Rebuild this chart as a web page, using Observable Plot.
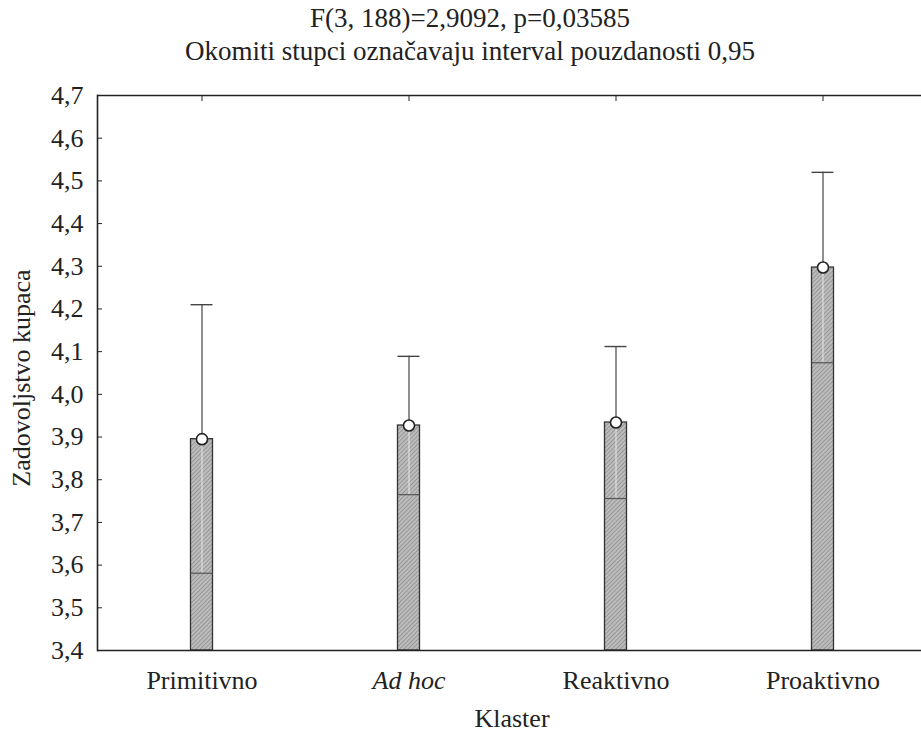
<!DOCTYPE html>
<html>
<head>
<meta charset="utf-8">
<script src="https://cdn.jsdelivr.net/npm/d3@7"></script>
<script src="https://cdn.jsdelivr.net/npm/@observablehq/plot@0.6"></script>
<style>
  body { margin: 0; background: #fff; }
</style>
</head>
<body>
<div id="wrap" style="position:relative;width:921px;height:734px;font-family:'Liberation Serif', serif;color:#222;">
  <div class="t" style="position:absolute;left:0;top:5px;width:940px;text-align:center;font-size:27px;line-height:1;font-family:'Liberation Serif', serif;">F(3, 188)=2,9092, p=0,03585</div>
  <div class="t" style="position:absolute;left:0;top:38px;width:940px;text-align:center;font-size:27px;line-height:1;font-family:'Liberation Serif', serif;">Okomiti stupci označavaju interval pouzdanosti 0,95</div>
</div>
<script>
const categories = ["Primitivno", "Ad hoc", "Reaktivno", "Proaktivno"];
const means = [3.895, 3.927, 3.934, 4.297];
const lower = [3.581, 3.765, 3.756, 4.074];
const upper = [4.210, 4.089, 4.112, 4.520];
const yTicks = [3.4, 3.5, 3.6, 3.7, 3.8, 3.9, 4.0, 4.1, 4.2, 4.3, 4.4, 4.5, 4.6, 4.7];
const yTitle = "Zadovoljstvo kupaca";
const xTitle = "Klaster";

const data = categories.map((c, i) => ({cat: c, mean: means[i], lo: lower[i], hi: upper[i]}));
const inset = 92.5;
const ff = "'Liberation Serif', serif";

const chart = Plot.plot({
  width: 921,
  height: 734,
  marginTop: 95,
  marginBottom: 84,
  marginLeft: 97,
  marginRight: 0,
  style: {fontFamily: ff, fontSize: "26px", color: "#222", background: "transparent"},
  x: {domain: categories, range: [97, 927], padding: 0},
  y: {domain: [3.4, 4.7]},
  marks: [
    Plot.barY(data, {x: "cat", y1: 3.4, y2: "mean", fill: "url(#hatch)", stroke: "#333", strokeWidth: 1.3, insetLeft: inset, insetRight: inset}),
    Plot.ruleX(data, {x: "cat", y1: "lo", y2: "mean", stroke: "#e6e6e6", strokeWidth: 1}),
    Plot.tickY(data, {x: "cat", y: "lo", stroke: "#555", strokeWidth: 1.2, insetLeft: inset, insetRight: inset}),
    Plot.ruleX(data, {x: "cat", y1: "mean", y2: "hi", stroke: "#444", strokeWidth: 1.2}),
    Plot.tickY(data, {x: "cat", y: "hi", stroke: "#444", strokeWidth: 1.4, insetLeft: inset, insetRight: inset}),
    Plot.dot(data, {x: "cat", y: "mean", r: 5.5, fill: "white", stroke: "#222", strokeWidth: 1.6}),
    Plot.ruleY([3.4, 4.7], {stroke: "#222", strokeWidth: 1.6}),
    Plot.frame({anchor: "left", stroke: "#222", strokeWidth: 1.6}),
    Plot.axisY({ticks: yTicks, tickSize: -5, tickPadding: 19, tickFormat: d => d.toFixed(1).replace(".", ","), label: null, stroke: "#222"}),
    Plot.axisX({anchor: "top", tickSize: -5, tickFormat: () => "", label: null, stroke: "#222"}),
    Plot.axisX({anchor: "bottom", tickSize: 0, tickPadding: 20, label: null})
  ]
});

const svg = d3.select(chart);
svg.insert("defs", ":first-child").html(
  `<pattern id="hatch" width="3" height="3" patternUnits="userSpaceOnUse" patternTransform="rotate(45)">
     <rect width="3" height="3" fill="#bcbcbc"></rect>
     <line x1="0" y1="0" x2="0" y2="3" stroke="#808080" stroke-width="1.2"></line>
   </pattern>`
);
svg.append("text")
  .attr("transform", "translate(30,378) rotate(-90)")
  .attr("text-anchor", "middle")
  .attr("font-size", 26)
  .attr("fill", "#222")
  .text(yTitle);
svg.append("text")
  .attr("x", 512).attr("y", 727)
  .attr("text-anchor", "middle")
  .attr("font-size", 26)
  .attr("fill", "#222")
  .text(xTitle);
svg.selectAll("text").filter(function() { return d3.select(this).text() === "Ad hoc"; }).style("font-style", "italic");

document.getElementById("wrap").appendChild(chart);
for (const el of [chart, ...chart.querySelectorAll("g, text")]) el.style.setProperty("font-family", ff, "important");
</script>
</body>
</html>
